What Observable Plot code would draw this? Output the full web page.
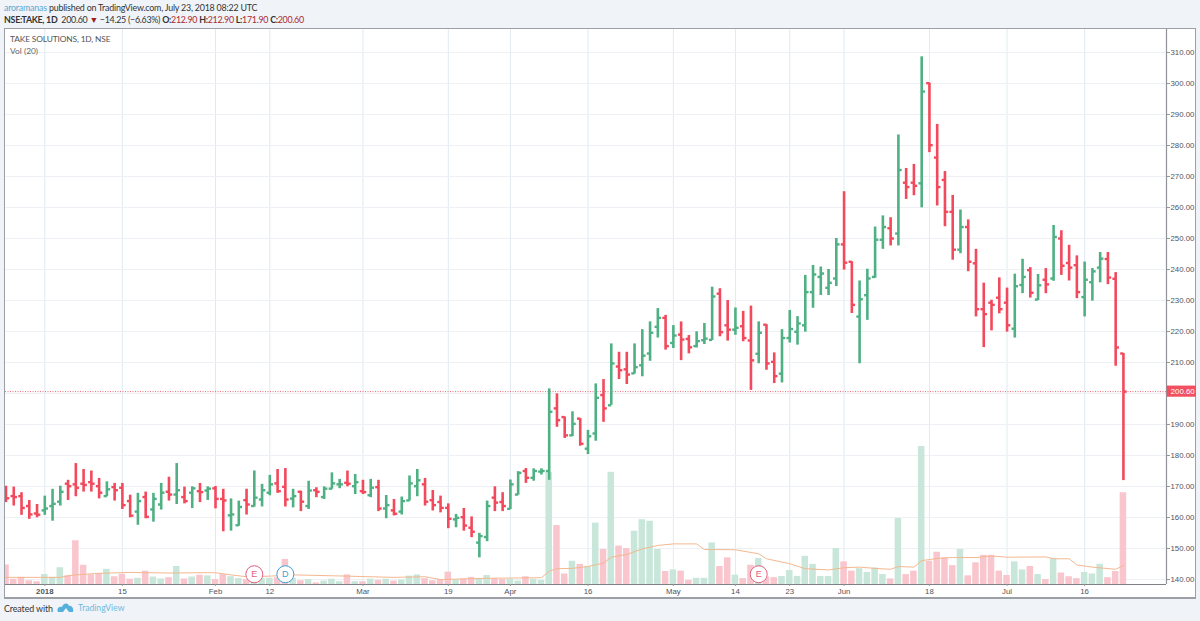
<!DOCTYPE html>
<html><head><meta charset="utf-8">
<script src="https://cdn.jsdelivr.net/npm/d3@7"></script>
<script src="https://cdn.jsdelivr.net/npm/@observablehq/plot@0.6"></script>
<style>
html,body{margin:0;padding:0;background:#f0f3f8;width:1200px;height:621px;overflow:hidden;font-family:Lato,sans-serif}
#chart svg{position:absolute;left:4px;top:28px;border:1px solid #9c9fa5;border-bottom-width:2px;box-sizing:content-box;display:block}
.h{position:absolute;white-space:nowrap;color:#333}
.r{color:#a82a30;font-weight:400}
b{font-weight:700}
</style></head><body>
<div class="h" style="left:4px;top:2px;font-size:8.9px;letter-spacing:-0.21px;line-height:11px"><span style="color:#5ba7d1">aroramanas</span> published on TradingView.com, July 23, 2018 08:22 UTC</div>
<div class="h" style="left:4px;top:14px;font-size:8.9px;letter-spacing:-0.29px;line-height:11px"><b>NSE:TAKE, 1D</b>&nbsp; 200.60 <span style="color:#a01b1b">▼</span> −14.25 (−6.63%) <b>O:</b><span class="r">212.90</span> <b>H:</b><span class="r">212.90</span> <b>L:</b><span class="r">171.90</span> <b>C:</b><span class="r">200.60</span></div>
<div id="chart"></div>
<div class="h" style="left:10px;top:34px;font-size:8.4px;letter-spacing:-0.15px;line-height:11px;color:#555;z-index:2">TAKE SOLUTIONS, 1D, NSE</div>
<div class="h" style="left:10px;top:46px;font-size:8.4px;line-height:11px;color:#666;z-index:2">Vol (20)</div>
<div class="h" style="left:4px;top:603px;font-size:8.9px;letter-spacing:-0.1px;line-height:11px">Created with</div>
<svg style="position:absolute;left:57px;top:602px" width="17" height="11" viewBox="0 0 17 11"><path d="M1 10 C-1 6 3 4 5 5 C6 1 11 0 12 4 C15 3 17 7 16 10 L12 10 L9 6 L6 10 Z" fill="#55b0dc"/></svg>
<div class="h" style="left:78px;top:603px;font-size:8.6px;line-height:11px;color:#6cbbe0">TradingView</div>
<script>
const opens=[166.6,166.9,166.9,163.7,161.3,162.3,163.7,165.1,170.9,170.7,170.9,171.4,170.1,166.9,169.8,169.6,165.3,161.9,166.6,162.6,164.2,168.3,167.4,166.6,168.0,168.5,168.7,169.4,166.0,160.7,157.5,165.6,163.7,165.8,168.0,171.0,169.9,166.1,
168.3,163.7,168.8,166.6,169.3,170.7,171.2,170.1,168.5,167.2,169.8,162.9,162.3,161.9,165.5,170.1,170.7,165.6,165.0,163.1,159.4,160.1,156.7,151.9,153.7,166.4,165.0,162.8,167.4,175.0,172.8,174.8,175.0,
195.2,192.4,186.5,191.9,182.2,187.1,199.5,196.2,208.7,207.8,206.5,209.1,212.9,221.5,224.4,216.3,219.0,217.6,215.3,217.2,217.3,232.2,222.0,220.6,221.7,217.1,212.8,222.2,210.2,206.4,217.9,219.9,222.0,232.7,237.6,234.1,237.1,
248.1,242.5,224.8,231.7,237.6,249.6,253.3,251.6,268.0,268.0,267.8,300.1,276.1,268.9,258.6,246.4,253.7,242.0,227.2,229.3,230.9,229.3,220.9,235.0,239.8,230.3,236.7,237.1,250.0,242.1,241.4,231.1,235.9,240.6,243.4,237.0,212.9];
const highs=[170.1,169.8,168.0,165.5,164.2,166.9,169.1,170.1,172.0,177.4,175.5,175.0,172.6,171.5,171.0,171.0,167.2,167.8,168.2,167.8,171.0,173.0,177.4,169.8,169.9,171.0,169.9,170.0,169.1,166.0,165.3,169.1,175.0,170.7,173.6,175.5,175.8,169.1,
168.5,171.7,169.6,169.9,174.4,172.3,175.0,173.9,172.0,172.3,172.0,167.1,165.8,166.6,173.4,175.5,172.6,168.7,166.9,164.4,161.0,162.9,160.2,154.9,165.3,169.9,168.0,172.1,174.8,175.8,175.7,175.7,201.5,
199.9,192.4,194.1,191.9,188.1,203.1,204.5,216.0,213.3,213.3,216.0,220.6,223.1,227.4,225.2,221.9,223.1,218.7,219.9,222.6,234.3,233.8,230.0,227.6,226.5,228.2,223.1,222.2,213.1,220.6,226.8,224.8,238.1,241.3,240.8,240.0,250.0,
265.1,242.5,236.3,240.1,253.7,257.3,256.7,283.4,272.6,273.9,308.6,300.1,286.8,271.6,263.9,259.2,256.0,246.5,235.6,230.1,237.3,234.0,238.5,243.3,240.6,238.4,240.3,254.2,252.5,247.8,244.4,242.4,240.3,245.5,245.5,239.0,212.9];
const lows=[164.8,163.7,160.7,159.4,159.9,160.7,158.8,163.7,165.5,166.7,168.2,168.2,166.0,166.7,165.3,162.6,159.9,157.5,159.6,158.5,162.4,165.3,164.2,164.4,162.9,164.8,165.5,162.8,155.4,155.6,157.2,160.8,163.4,163.4,167.0,167.8,163.4,163.1,
161.9,162.6,166.4,165.8,169.1,169.3,169.9,167.4,167.4,166.4,161.9,159.6,160.5,160.8,165.3,166.7,163.7,162.1,161.5,156.4,156.7,155.6,153.5,147.0,152.2,161.9,161.9,162.6,167.2,171.0,171.7,173.7,172.0,
189.1,185.5,186.1,183.0,180.3,184.6,190.7,196.2,204.5,202.9,206.3,205.4,210.4,217.9,214.0,214.5,210.6,212.8,214.7,215.8,217.1,218.3,216.9,218.8,216.7,201.0,209.6,207.5,203.2,203.4,216.3,215.6,219.8,227.5,231.6,231.6,234.5,
239.8,225.8,209.6,223.6,237.2,246.5,247.6,247.6,262.6,263.8,259.9,277.7,260.5,253.8,243.0,245.1,239.3,224.7,214.8,220.2,225.7,219.8,217.9,232.2,230.8,230.0,232.2,236.2,238.1,236.3,230.6,224.7,229.8,235.7,235.1,208.8,171.9];
const closes=[166.2,166.6,163.1,161.0,160.9,162.9,164.4,168.3,170.1,169.6,170.5,170.9,168.0,169.1,168.8,164.0,160.6,165.3,160.2,166.0,168.0,167.4,168.8,165.3,169.4,168.2,169.3,166.0,165.5,161.0,163.4,164.2,166.4,168.8,170.7,168.5,165.8,166.9,
165.1,168.7,168.3,169.3,171.0,170.7,170.9,171.4,168.2,169.6,162.9,164.0,161.2,165.3,171.0,172.0,165.1,164.0,163.1,159.6,159.9,157.4,155.4,154.0,163.7,164.8,163.7,170.7,174.4,172.8,175.0,175.0,194.1,
191.4,186.5,190.2,183.8,186.2,198.6,195.2,209.7,207.5,206.1,208.5,212.2,219.6,224.4,215.3,218.7,217.4,214.9,216.9,217.7,231.3,219.8,220.6,221.2,217.9,210.7,219.6,209.7,205.6,217.9,220.8,222.6,232.7,238.4,238.7,235.7,248.1,
242.2,228.6,230.4,237.1,249.6,253.7,250.0,272.1,266.6,267.0,297.4,280.1,266.6,258.6,246.4,253.7,242.5,227.2,225.6,228.6,227.2,222.0,234.6,237.6,232.5,234.9,235.2,250.5,241.2,240.6,232.7,236.7,239.4,243.5,237.4,214.85,200.6];
// volume, read as bar height in price-axis units above the floor
const volumes=[6.3,1.7,2.3,1.2,0.9,3.2,2.3,5.4,2.8,14.1,6.2,3.1,3.5,4.9,2.5,3.3,1.7,2.0,4.3,2.4,1.8,2.2,5.8,1.8,2.4,3.0,2.8,1.6,3.2,2.5,1.9,1.6,2.2,1.9,2.0,2.2,8.1,2.0,
1.2,1.6,0.5,1.1,1.7,0.9,3.1,0.9,0.9,1.7,1.3,1.7,1.1,1.4,2.7,3.1,1.9,1.2,1.6,4.0,1.4,1.8,2.3,1.9,2.9,1.9,1.6,1.7,1.1,2.5,1.7,1.3,36.1,
19.0,3.4,7.5,6.5,5.8,19.8,11.3,36.2,12.4,11.6,17.2,20.9,20.4,11.3,4.2,4.7,4.3,1.3,2.0,2.0,13.4,5.8,8.6,3.0,1.9,6.2,8.4,2.4,2.2,2.6,4.5,2.6,9.1,6.5,2.6,2.6,11.6,
7.3,4.3,5.1,3.9,5.3,3.2,1.8,21.3,3.2,4.3,44.5,7.5,10.4,8.6,6.1,11.3,2.8,7.0,9.4,9.4,4.3,2.9,7.3,4.7,5.8,3.2,1.6,8.3,3.7,2.5,1.9,3.9,3.4,6.5,2.2,4.2,29.6];
const maBars=[0,5,7,8,9,12,16,21,25,27,29,31,34,37,44,50,54,56,62,69,70,71,73,75,77,78,80,82,84,86,89,90,94,97,98,101,103,106,108,110,112,114,115,117,118,120,122,125,127,129,134,135,137,138,140,143,144];
const maValues=[2.3,2.3,2.3,2.8,3.1,3.6,3.9,3.7,3.8,3.8,3.1,2.5,2.7,3.1,2.7,2.3,2.5,1.6,2.0,2.2,4.3,5.1,5.2,5.8,6.9,8.8,9.7,11.5,12.6,13.1,13.1,11.3,11.2,9.9,8.3,6.7,5.1,4.7,5.4,5.6,5.2,4.9,5.8,5.6,7.7,8.4,8.7,8.7,9.2,8.8,8.9,8.3,8.3,6.3,5.6,4.9,6.1];
const tickBars=[5,15,27,34,46,57,65,75,86,94,101,108,119,129,139];
const tickLabels=["2018","15","Feb","12","Mar","19","Apr","16","May","14","23","Jun","18","Jul","16"];
const priceTicks=[140,150,160,170,180,190,200,210,220,230,240,250,260,270,280,290,300,310];
const eventBars=[32,36,97];
const eventLetters=["E","D","E"];
const eventColors=["#e0607e","#3f9fd8","#e0607e"];
const lastPrice=200.6;

const UP="#4fb084", DOWN="#f2495c", VUP="#c8e6d9", VDOWN="#f9c6cd";
const floor=138.39, eventY=141.7;
const bars=opens.map((o,i)=>({i,o,h:highs[i],l:lows[i],c:closes[i],v:volumes[i]}));
const col=d=>d.c>=d.o?UP:DOWN;
const xMax=149.55;
const font='"Liberation Sans",Arial,sans-serif';
const chart=Plot.plot({
  width:1190,height:568,marginLeft:0,marginRight:29,marginTop:0,marginBottom:13,
  style:{background:"#fff",fontFamily:font,fontSize:"7.8px",overflow:"visible",maxWidth:"none"},
  x:{domain:[-0.064,xMax],axis:null},
  y:{domain:[floor,317.42],axis:null},
  marks:[
    Plot.gridX(tickBars,{stroke:"#dfeaf0",strokeOpacity:1}),
    Plot.gridY(priceTicks,{stroke:"#edf1f5",strokeOpacity:1}),
    Plot.rect(bars,{x1:d=>d.i-0.42,x2:d=>d.i+0.42,y1:floor,y2:d=>floor+d.v,fill:d=>d.c>=d.o?VUP:VDOWN,clip:true}),
    Plot.line(maBars.map((b,k)=>({b,v:maValues[k]})),{x:"b",y:d=>floor+d.v,stroke:"#f4b890",strokeWidth:1}),
    Plot.ruleY([lastPrice],{stroke:"#f2606e",strokeWidth:1,strokeDasharray:"1 1.5"}),
    Plot.ruleX(bars,{x:"i",y1:"l",y2:"h",stroke:col,strokeWidth:2.6,clip:true}),
    Plot.link(bars,{x1:d=>d.i-0.42,x2:"i",y1:"o",y2:"o",stroke:col,strokeWidth:2.4,clip:true}),
    Plot.link(bars,{x1:"i",x2:d=>d.i+0.42,y1:"c",y2:"c",stroke:col,strokeWidth:2.4,clip:true}),
    Plot.dot(eventBars.map((b,k)=>({b,k})),{x:"b",y:eventY,r:8.5,fill:"#fff",stroke:d=>eventColors[d.k],strokeWidth:1}),
    Plot.text(eventBars.map((b,k)=>({b,k})),{x:"b",y:eventY,text:d=>eventLetters[d.k],fill:d=>eventColors[d.k],fontSize:9}),
    Plot.ruleY([floor],{stroke:"#7d8085",strokeWidth:1}),
    Plot.ruleX([xMax],{stroke:"#8f9297",strokeWidth:1.2}),
    Plot.axisY(priceTicks,{anchor:"right",tickSize:3,tickPadding:1,tickFormat:d=>d.toFixed(2),label:null,fill:"#50535e",stroke:"#999",fontSize:7.8}),
    Plot.axisX(tickBars.slice(1),{anchor:"bottom",tickSize:2,tickPadding:2,tickFormat:d=>tickLabels[tickBars.indexOf(d)],label:null,fill:"#50535e",stroke:"#999",fontSize:7.8}),
    Plot.axisX(tickBars.slice(0,1),{anchor:"bottom",tickSize:2,tickPadding:2,tickFormat:d=>tickLabels[tickBars.indexOf(d)],label:null,fill:"#50535e",stroke:"#999",fontSize:7.8,fontWeight:"bold"}),
    Plot.rect([lastPrice],{x1:xMax+0.1,x2:153.4,y1:d=>d-1.8,y2:d=>d+1.8,fill:"#f0505f"}),
    Plot.text([lastPrice],{x:xMax+0.55,y:d=>d,text:d=>d.toFixed(2),textAnchor:"start",fill:"#fff",fontSize:7.8})
  ]
});
document.getElementById("chart").appendChild(chart);
</script>
</body></html>
